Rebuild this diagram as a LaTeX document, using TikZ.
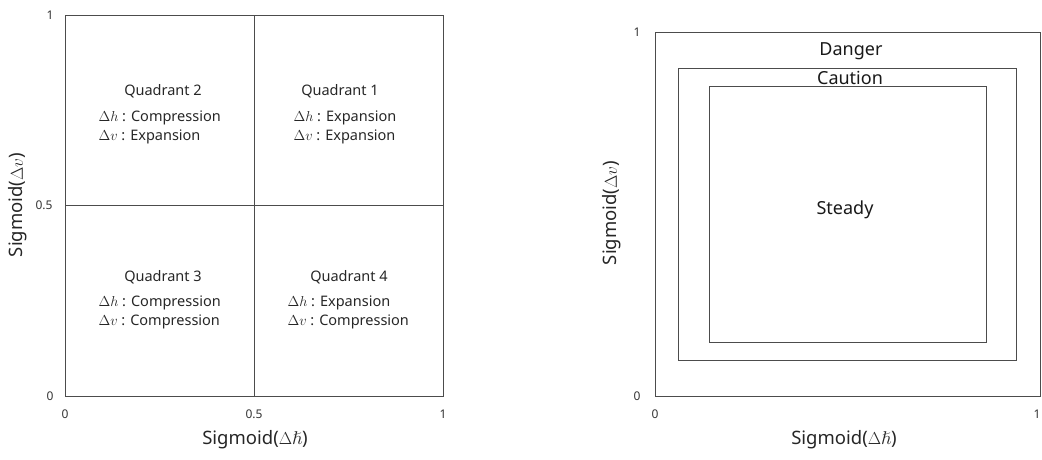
\documentclass[tikz,border=0pt]{standalone}
\usepackage{amsmath}
\usepackage{amssymb}
\usepackage{fontspec}
\setmainfont{Noto Sans}

\begin{document}
\begin{tikzpicture}[x=1pt,y=-1pt,
  box line/.style={draw=black!70,line width=0.8pt},
  quad title/.style={font=\fontsize{14.5}{17}\selectfont,text=black!85},
  quad text/.style={font=\fontsize{14.5}{19}\selectfont,text=black!85,align=left,anchor=west},
  tick label/.style={font=\fontsize{12}{14}\selectfont,text=black!80},
  axis label/.style={font=\fontsize{18.5}{22}\selectfont,text=black!85},
  zone label/.style={font=\fontsize{18}{21}\selectfont,text=black!90}]
  \useasboundingbox (0,0) rectangle (1042,459);

  % left plot: quadrants
  \draw[box line] (65,15) rectangle (443,396);
  \draw[box line] (254,15) -- (254,396);
  \draw[box line] (65,205) -- (443,205);

  \node[quad title] (q2) at (163,91) {Quadrant 2};
  \node[quad text] (q2t) at (95,127.5) {$\Delta h$ : Compression\\$\Delta v$ : Expansion};
  \node[quad title] (q1) at (340,91) {Quadrant 1};
  \node[quad text] (q1t) at (290,127.5) {$\Delta h$ : Expansion\\$\Delta v$ : Expansion};
  \node[quad title] (q3) at (163,277) {Quadrant 3};
  \node[quad text] (q3t) at (95,312.5) {$\Delta h$ : Compression\\$\Delta v$ : Compression};
  \node[quad title] (q4) at (349,277) {Quadrant 4};
  \node[quad text] (q4t) at (284,312.5) {$\Delta h$ : Expansion\\$\Delta v$ : Compression};

  % left ticks
  \node[tick label] (ly1) at (50,15) {1};
  \node[tick label] (ly5) at (44,205) {0.5};
  \node[tick label] (ly0) at (50,396) {0};
  \node[tick label] (lx0) at (65,414) {0};
  \node[tick label] (lx5) at (254,414) {0.5};
  \node[tick label] (lx1) at (443,414) {1};
  \node[axis label] (lxl) at (255,440) {Sigmoid($\Delta\hslash$)};
  \node[axis label,rotate=90] (lyl) at (18,205) {Sigmoid($\Delta v$)};

  % right plot: zones
  \draw[box line] (655,32) rectangle (1040,396);
  \draw[box line] (678,68) rectangle (1016,360);
  \draw[box line] (709,86) rectangle (986,342);

  \node[zone label] (danger) at (851,51) {Danger};
  \node[zone label] (caution) at (850,78) {Caution};
  \node[zone label] (steady) at (845,210) {Steady};

  % right ticks
  \node[tick label] (ry1) at (637,32) {1};
  \node[tick label] (ry0) at (637,396) {0};
  \node[tick label] (rx0) at (655,414) {0};
  \node[tick label] (rx1) at (1037,414) {1};
  \node[axis label] (rxl) at (844,440) {Sigmoid($\Delta\hslash$)};
  \node[axis label,rotate=90] (ryl) at (612,213) {Sigmoid($\Delta v$)};
\end{tikzpicture}
\end{document}
